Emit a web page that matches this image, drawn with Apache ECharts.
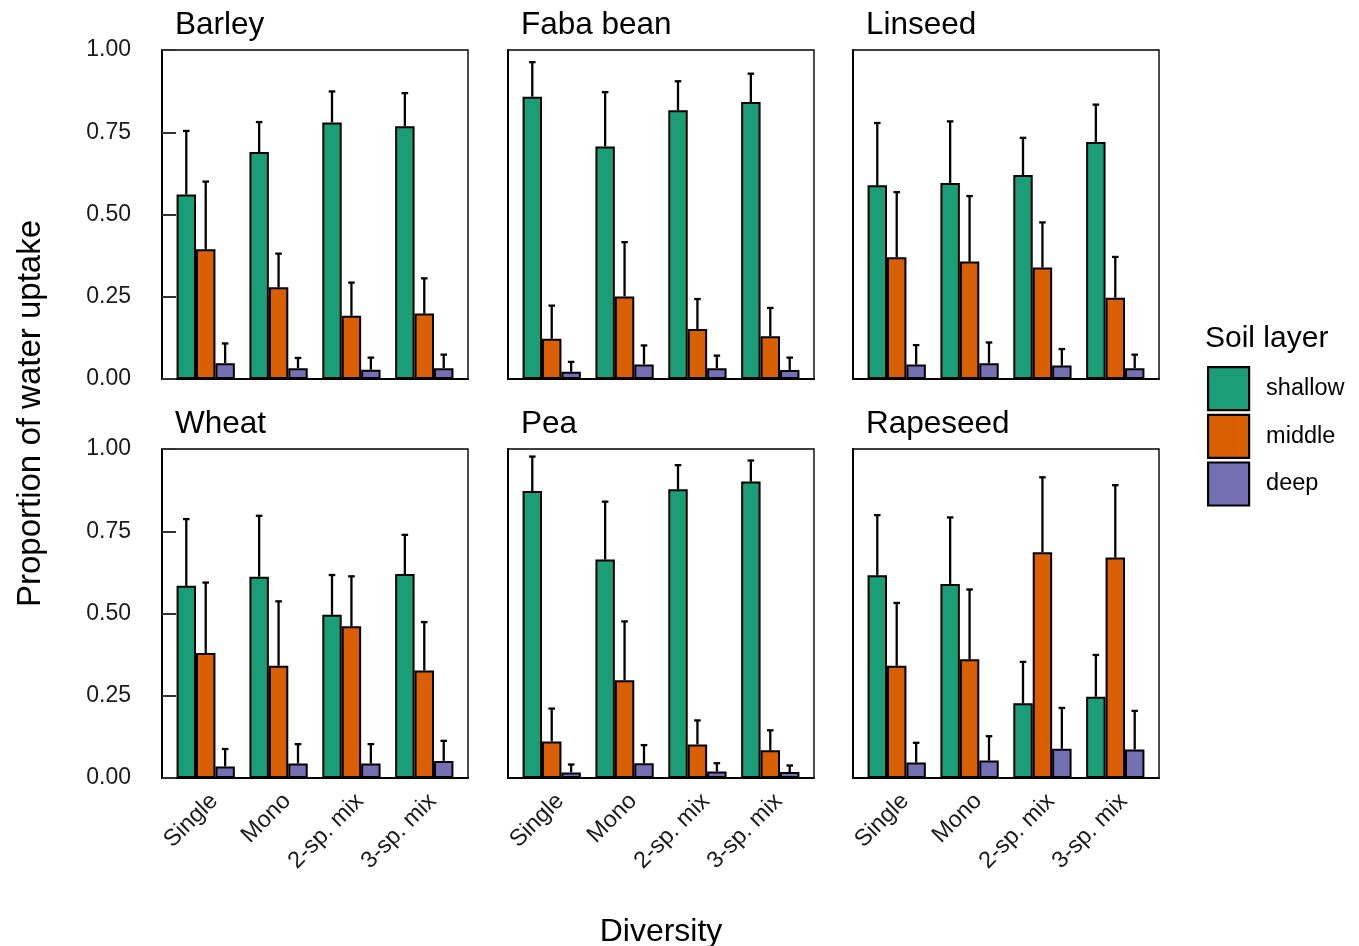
<!DOCTYPE html>
<html>
<head>
<meta charset="utf-8">
<script src="https://cdn.jsdelivr.net/npm/echarts@6/dist/echarts.min.js"></script>
<style>
html,body{margin:0;padding:0;background:#fff;}
#chart{width:1359px;height:946px;}
</style>
</head>
<body>
<div id="chart"></div>
<script>
const crops = ['Barley', 'Faba bean', 'Linseed', 'Wheat', 'Pea', 'Rapeseed'];
const diversity = ['Single', 'Mono', '2-sp. mix', '3-sp. mix'];
const layers = ['shallow', 'middle', 'deep'];
const yTicks = [0, 0.25, 0.5, 0.75, 1];

// rows follow crops order; columns follow diversity order
const shallowMean = [
  [0.561, 0.690, 0.780, 0.768],
  [0.858, 0.707, 0.817, 0.842],
  [0.589, 0.596, 0.620, 0.720],
  [0.584, 0.612, 0.496, 0.620],
  [0.872, 0.664, 0.878, 0.901],
  [0.616, 0.590, 0.227, 0.247]
];
const shallowUpper = [
  [0.754, 0.781, 0.874, 0.869],
  [0.963, 0.872, 0.905, 0.928],
  [0.778, 0.783, 0.733, 0.834],
  [0.787, 0.797, 0.617, 0.739],
  [0.977, 0.840, 0.951, 0.965],
  [0.799, 0.792, 0.353, 0.374]
];
const middleMean = [
  [0.394, 0.279, 0.192, 0.199],
  [0.122, 0.251, 0.152, 0.130],
  [0.370, 0.357, 0.339, 0.247],
  [0.380, 0.341, 0.461, 0.327],
  [0.111, 0.297, 0.102, 0.084],
  [0.341, 0.361, 0.686, 0.670]
];
const middleUpper = [
  [0.600, 0.381, 0.293, 0.306],
  [0.223, 0.416, 0.243, 0.216],
  [0.568, 0.556, 0.476, 0.371],
  [0.594, 0.537, 0.613, 0.474],
  [0.211, 0.476, 0.175, 0.145],
  [0.532, 0.573, 0.914, 0.890]
];
const deepMean = [
  [0.048, 0.033, 0.028, 0.033],
  [0.022, 0.044, 0.033, 0.027],
  [0.044, 0.048, 0.041, 0.033],
  [0.035, 0.044, 0.044, 0.052],
  [0.017, 0.045, 0.020, 0.018],
  [0.047, 0.053, 0.089, 0.087]
];
const deepUpper = [
  [0.108, 0.064, 0.065, 0.074],
  [0.052, 0.102, 0.071, 0.065],
  [0.103, 0.111, 0.091, 0.074],
  [0.088, 0.103, 0.103, 0.113],
  [0.041, 0.100, 0.045, 0.038],
  [0.107, 0.127, 0.213, 0.204]
];

const colors = ['#1B9E77', '#D95F02', '#7570B3'];
const FONT = '"Liberation Sans", Arial, Helvetica, sans-serif';
const means = [shallowMean, middleMean, deepMean];
const uppers = [shallowUpper, middleUpper, deepUpper];

const panelLefts = [162, 508, 853];
const panelTops = [50, 449];
const PW = 306, PH = 329;
const unit = PW / 4.2; // ggplot discrete expansion of 0.6 each side

const grids = [], xAxes = [], yAxes = [], series = [], graphics = [];

crops.forEach((crop, p) => {
  const r = Math.floor(p / 3), c = p % 3;
  const L = panelLefts[c], T = panelTops[r];
  const outer = 2 * p, inner = 2 * p + 1;
  grids.push({ left: L, top: T, width: PW, height: PH, show: true,
    borderColor: '#000', borderWidth: 1.4, backgroundColor: 'transparent' });
  grids.push({ left: L + 0.1 * unit, top: T, width: 4 * unit, height: PH });

  xAxes.push({ gridIndex: outer, type: 'value', min: 0, max: 1,
    axisLine: { show: true, onZero: false, lineStyle: { color: '#000', width: 2 } },
    axisTick: { show: false }, axisLabel: { show: false }, splitLine: { show: false } });
  xAxes.push({ gridIndex: inner, type: 'category', data: diversity,
    axisLine: { show: false }, axisTick: { show: false },
    axisLabel: { show: r === 1, rotate: 45, interval: 0, margin: 11, verticalAlign: 'top',
      fontSize: 23.5, fontFamily: FONT, color: '#1a1a1a' },
    splitLine: { show: false } });

  yAxes.push({ gridIndex: outer, type: 'value', min: 0, max: 1, interval: 0.25,
    axisLine: { show: true, onZero: false, lineStyle: { color: '#000', width: 2 } },
    axisTick: { show: c === 0, inside: true, length: 14, lineStyle: { color: '#333', width: 2 } },
    axisLabel: { show: c === 0, margin: 31, fontSize: 23, fontFamily: FONT, color: '#1a1a1a',
      formatter: v => v.toFixed(2) },
    splitLine: { show: false } });
  yAxes.push({ gridIndex: inner, type: 'value', min: 0, max: 1, show: false });

  layers.forEach((layer, s) => {
    series.push({
      name: layer, type: 'bar', xAxisIndex: inner, yAxisIndex: inner,
      barGap: '0%', barCategoryGap: '20%',
      data: means[s][p],
      itemStyle: { color: colors[s], borderColor: '#000', borderWidth: 2 },
      z: 2
    });
  });

  const errData = [];
  layers.forEach((layer, s) => {
    diversity.forEach((d, k) => {
      errData.push([k, s, means[s][p][k], uppers[s][p][k]]);
    });
  });
  series.push({
    name: 'err' + p, type: 'custom', xAxisIndex: inner, yAxisIndex: inner,
    data: errData, encode: { x: 0, y: [2, 3] }, z: 3, silent: true,
    renderItem: function (params, api) {
      const k = api.value(0), s = api.value(1), m = api.value(2), u = api.value(3);
      const band = api.size([1, 0])[0];
      const xc = api.coord([k, 0])[0] + (s - 1) * band * 0.8 / 3;
      const y0 = api.coord([k, m])[1];
      const y1 = api.coord([k, u])[1];
      const cw = band * 0.045;
      const st = { stroke: '#000', lineWidth: 2.3 };
      return { type: 'group', children: [
        { type: 'line', shape: { x1: xc, y1: y0, x2: xc, y2: y1 }, style: st },
        { type: 'line', shape: { x1: xc - cw, y1: y1, x2: xc + cw, y2: y1 }, style: st }
      ] };
    }
  });

  graphics.push({ type: 'text', x: L + 13, y: T - 25,
    style: { text: crop, font: '31.5px ' + FONT, fill: '#000',
      textAlign: 'left', textVerticalAlign: 'middle' } });
});

graphics.push({ type: 'text', x: 31, y: 413.5, rotation: Math.PI / 2,
  style: { text: 'Proportion of water uptake', font: '33px ' + FONT, fill: '#000',
    textAlign: 'center', textVerticalAlign: 'middle' } });
graphics.push({ type: 'text', x: 661, y: 932,
  style: { text: 'Diversity', font: '32px ' + FONT, fill: '#000',
    textAlign: 'center', textVerticalAlign: 'middle' } });
graphics.push({ type: 'text', x: 1205, y: 339,
  style: { text: 'Soil layer', font: '30px ' + FONT, fill: '#000',
    textAlign: 'left', textVerticalAlign: 'middle' } });

const chart = echarts.init(document.getElementById('chart'), null, { renderer: 'canvas' });
chart.setOption({
  backgroundColor: '#fff',
  animation: false,
  grid: grids, xAxis: xAxes, yAxis: yAxes, series: series,
  legend: {
    data: layers, orient: 'vertical', left: 1207, top: 366, padding: 0,
    itemWidth: 41, itemHeight: 43, itemGap: 2.5, icon: 'rect',
    itemStyle: { borderColor: '#000', borderWidth: 2.2 },
    textStyle: { fontSize: 23.5, fontFamily: FONT, color: '#000', padding: [2, 0, 0, 12] },
    selectedMode: false
  },
  graphic: graphics
});
</script>
</body>
</html>
